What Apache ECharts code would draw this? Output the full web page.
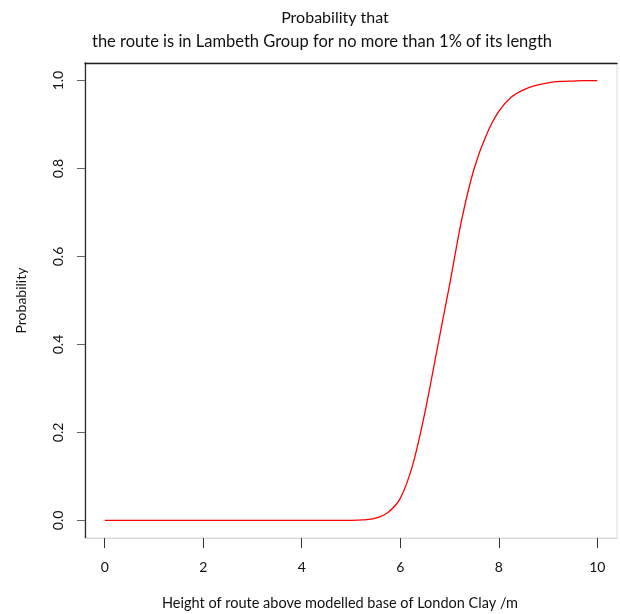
<!DOCTYPE html>
<html>
<head>
<meta charset="utf-8">
<script src="https://cdn.jsdelivr.net/npm/echarts@6/dist/echarts.min.js"></script>
<style>
  html, body { margin: 0; padding: 0; background: #fff; }
  #chart { width: 620px; height: 614px; }
</style>
</head>
<body>
<div id="chart"></div>
<script>
// height of route above modelled base of London Clay (m)
var heights = [0, 0.5, 1, 1.5, 2, 2.5, 3, 3.5, 4, 4.5, 5, 5.25, 5.5, 5.75, 6, 6.25, 6.5, 6.75,
               7, 7.25, 7.5, 7.75, 8, 8.25, 8.5, 8.75, 9, 9.25, 9.5, 9.75, 10];
// probability
var probability = [0, 0, 0, 0, 0, 0, 0, 0, 0, 0, 0, 0.001, 0.005, 0.018, 0.05, 0.125, 0.245, 0.39,
                   0.535, 0.685, 0.80, 0.877, 0.93, 0.962, 0.979, 0.989, 0.995, 0.998, 0.999, 1.0, 1.0];
var xTicks = [0, 2, 4, 6, 8, 10];
var yTicks = [0, 0.2, 0.4, 0.6, 0.8, 1.0];

var titleLines = ['Probability that', 'the route is in Lambeth Group for no more than 1% of its length'];
var xName = 'Height of route above modelled base of London Clay /m';
var yName = 'Probability';

var font = 'Lato';
var chart = echarts.init(document.getElementById('chart'));

var points = heights.map(function (h, i) { return [h, probability[i]]; });

chart.setOption({
    backgroundColor: '#fff',
    animation: false,
    title: [
        { text: titleLines[0], left: 330, top: 5, textAlign: 'center',
          textStyle: { fontFamily: font, fontSize: 16, fontWeight: 'normal', color: '#111' } },
        { text: titleLines[1], left: 317, top: 28, textAlign: 'center',
          textStyle: { fontFamily: font, fontSize: 16.5, fontWeight: 'normal', color: '#111' } }
    ],
    grid: {
        left: 85, right: 3, top: 63, bottom: 76,
        containLabel: false, outerBoundsMode: 'none',
        show: true, borderColor: '#dadada', borderWidth: 1
    },
    xAxis: [{
        type: 'value', min: -0.4, max: 10.4, position: 'bottom',
        name: xName, nameLocation: 'middle', nameGap: 58,
        nameTextStyle: { fontFamily: font, fontSize: 14.5, color: '#111', padding: [0, 22, 0, 0] },
        axisLine: { show: true, onZero: false, lineStyle: { color: '#dadada', width: 1 } },
        axisTick: { show: true, customValues: xTicks, length: 10, lineStyle: { color: '#333' } },
        axisLabel: { customValues: xTicks, margin: 22, fontFamily: font, fontSize: 14, color: '#111' },
        splitLine: { show: false }
    }, {
        type: 'value', min: -0.4, max: 10.4, position: 'top',
        axisLine: { show: true, onZero: false, lineStyle: { color: '#222', width: 1.3 } },
        axisTick: { show: false }, axisLabel: { show: false }, splitLine: { show: false }
    }],
    yAxis: {
        type: 'value', min: -0.04, max: 1.04,
        name: yName, nameLocation: 'middle', nameGap: 57,
        nameTextStyle: { fontFamily: font, fontSize: 14, color: '#111' },
        axisLine: { show: true, onZero: false, lineStyle: { color: '#333', width: 1.3 } },
        axisTick: { show: true, customValues: yTicks, length: 8, lineStyle: { color: '#666' } },
        axisLabel: {
            customValues: yTicks, rotate: 90, margin: 20,
            fontFamily: font, fontSize: 14, color: '#111',
            formatter: function (v) { return v.toFixed(1); }
        },
        splitLine: { show: false }
    },
    series: [{
        type: 'line',
        data: points,
        smooth: 0.3,
        showSymbol: false,
        lineStyle: { color: '#ff0000', width: 1.3 }
    }]
});
</script>
</body>
</html>
